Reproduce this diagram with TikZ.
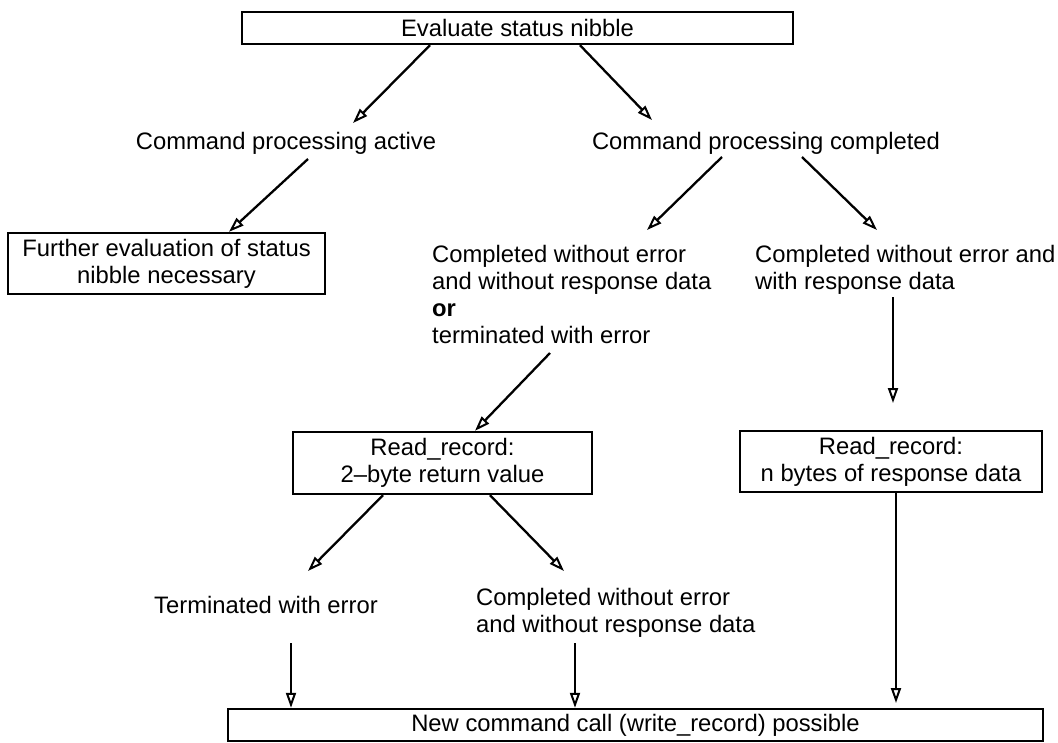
\documentclass[tikz,border=0pt]{standalone}
\usepackage{fontspec}
\setmainfont{Liberation Sans}
\usetikzlibrary{arrows.meta}

\tikzset{
  box/.style={draw, line width=2.4pt, inner sep=0pt, align=center, font=\flowfont},
  lbl/.style={inner sep=0pt, font=\flowfont},
  arr/.style={line width=2.3pt, -{Triangle[open, length=15pt, width=10pt, line width=2pt]}},
}
\newcommand{\flowfont}{\fontsize{23.8}{27}\selectfont}

\begin{document}
\begin{tikzpicture}[x=1pt, y=-1pt]
  \useasboundingbox (0,0) rectangle (1058,742);

  % boxes
  \node[box, minimum width=551pt, minimum height=32pt] (ev) at (517.5,28) {Evaluate status nibble};
  \node[box, minimum width=317pt, minimum height=61pt] (fur) at (166.5,263.5)
    {Further evaluation of status\\ nibble necessary};
  \node[box, minimum width=299pt, minimum height=62pt] (rr1) at (442.5,463)
    {Read\_record:\\ 2--byte return value};
  \node[box, minimum width=302pt, minimum height=61pt] (rr2) at (891,461.5)
    {Read\_record:\\ n bytes of response data};
  \node[box, minimum width=815pt, minimum height=32pt] (new) at (635.5,725)
    {New command call (write\_record) possible};

  % plain labels
  \node[lbl] (act) at (286,143) {Command processing active};
  \node[lbl] (cpl) at (766,143) {Command processing completed};
  \node[lbl, anchor=north west, align=left] (nores) at (432,245)
    {Completed without error\\ and without response data\\ \textbf{or}\\ terminated with error};
  \node[lbl, anchor=north west, align=left] (withres) at (755,245)
    {Completed without error and\\ with response data};
  \node[lbl] (term) at (266,605) {Terminated with error};
  \node[lbl, anchor=north west, align=left] (cwe) at (476,588)
    {Completed without error\\ and without response data};

  % free connector ends
  \coordinate (c1) at (353,123);
  \coordinate (c2) at (652,120);
  \coordinate (c3) at (308,159);
  \coordinate (c4s) at (722,157);
  \coordinate (c4e) at (647,230);
  \coordinate (c5s) at (802,157);
  \coordinate (c5e) at (877,230);
  \coordinate (c6) at (550,353);
  \coordinate (c7s) at (893,297);
  \coordinate (c7e) at (893,403);
  \coordinate (c8) at (308,571);
  \coordinate (c9) at (564,571);
  \coordinate (c10) at (291,643);
  \coordinate (c11) at (575,643);
  \coordinate (c12) at (896,703);

  % connectors
  \draw[arr] ([xshift=-87.5pt]ev.south) -- (c1);
  \draw[arr] ([xshift=62.5pt]ev.south) -- (c2);
  \draw[arr] (c3) -- ([xshift=62.5pt]fur.north);
  \draw[arr] (c4s) -- (c4e);
  \draw[arr] (c5s) -- (c5e);
  \draw[arr] (c6) -- ([xshift=32.5pt]rr1.north);
  \draw[arr] (c7s) -- (c7e);
  \draw[arr] ([xshift=-59.5pt]rr1.south) -- (c8);
  \draw[arr] ([xshift=47.5pt]rr1.south) -- (c9);
  \draw[arr] (c10) -- (c10 |- new.north);
  \draw[arr] (c11) -- (c11 |- new.north);
  \draw[arr] ([xshift=5pt]rr2.south) -- (c12);
\end{tikzpicture}
\end{document}
